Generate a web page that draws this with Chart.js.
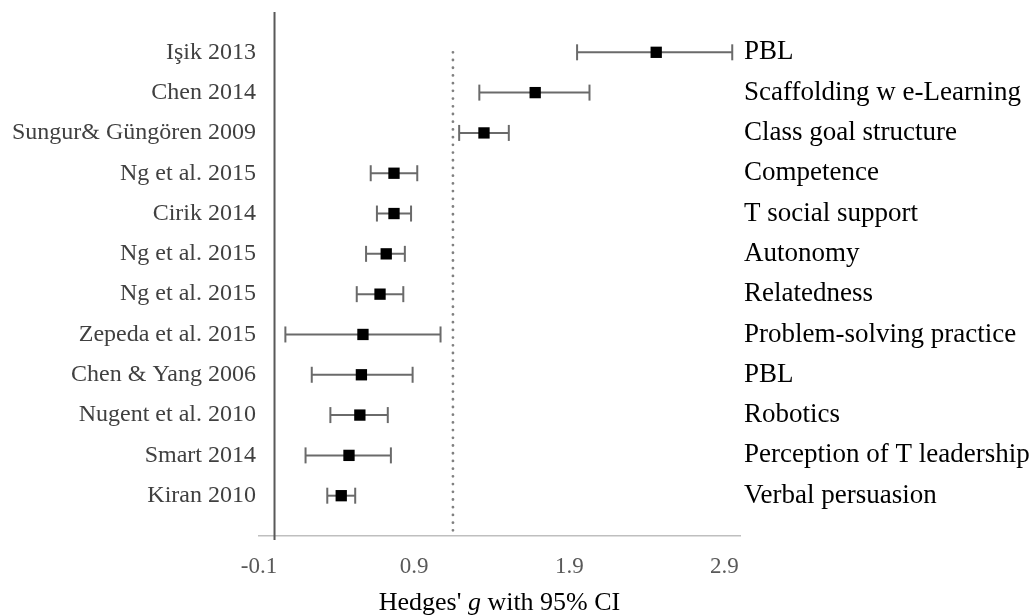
<!DOCTYPE html>
<html><head><meta charset="utf-8">
<script src="https://cdn.jsdelivr.net/npm/chart.js@4"></script>
<style>html,body{margin:0;padding:0;background:#fff}#wrap{width:1031px;height:615px;position:relative}</style>
</head><body><div id="wrap"><canvas id="c" width="1031" height="615"></canvas></div>
<script>
const studies = ["Işik 2013","Chen 2014","Sungur& Güngören 2009","Ng et al. 2015","Cirik 2014","Ng et al. 2015","Ng et al. 2015","Zepeda et al. 2015","Chen & Yang 2006","Nugent et al. 2010","Smart 2014","Kiran 2010"];
const interventions = ["PBL","Scaffolding w e-Learning","Class goal structure","Competence","T social support","Autonomy","Relatedness","Problem-solving practice","PBL","Robotics","Perception of T leadership","Verbal persuasion"];
const effect = [2.46, 1.68, 1.35, 0.77, 0.77, 0.72, 0.68, 0.57, 0.56, 0.55, 0.48, 0.43];
const lower  = [1.95, 1.32, 1.19, 0.62, 0.66, 0.59, 0.53, 0.07, 0.24, 0.36, 0.20, 0.34];
const upper  = [2.95, 2.03, 1.51, 0.92, 0.88, 0.84, 0.83, 1.07, 0.89, 0.73, 0.75, 0.52];
const pooledEffect = 1.15;
const xTickValues = [-0.1, 0.9, 1.9, 2.9];
const xTickLabels = ["-0.1", "0.9", "1.9", "2.9"];
const xTitleParts = [["Hedges' ", "normal"], ["g", "italic"], [" with 95% CI", "normal"]];

const n = studies.length;
const rowY = studies.map((_, i) => n - i);
const ERR = '#6a6a6a';

const datasets = [];
datasets.push({
  label: 'Effect',
  data: effect.map((v, i) => ({x: v, y: rowY[i]})),
  pointStyle: 'rect', pointRadius: 8, pointHoverRadius: 8,
  pointBackgroundColor: '#000', pointBorderWidth: 0, showLine: false
});
studies.forEach((s, i) => datasets.push({
  label: 'CI ' + i,
  data: [{x: lower[i], y: rowY[i]}, {x: upper[i], y: rowY[i]}],
  showLine: true, borderColor: ERR, borderWidth: 2,
  pointStyle: 'line', pointRotation: 90, pointRadius: 8, pointHoverRadius: 8,
  pointBorderColor: ERR, pointBorderWidth: 2, pointBackgroundColor: ERR
}));
datasets.push({
  label: 'Pooled',
  data: [{x: pooledEffect, y: rowY[0]}, {x: pooledEffect, y: 0}],
  showLine: true, borderColor: '#808080', borderWidth: 2.8,
  borderDash: [0.01, 7.7], borderCapStyle: 'round', pointRadius: 0
});
datasets.push({
  label: 'Axis',
  data: [{x: 0, y: n + 1}, {x: 0, y: -0.1}],
  showLine: true, borderColor: '#595959', borderWidth: 2, pointRadius: 0, clip: false
});

const titlePlugin = {
  id: 'xtitle',
  afterDraw(chart) {
    const ctx = chart.ctx, x = chart.scales.x;
    ctx.save();
    ctx.fillStyle = '#000';
    ctx.textBaseline = 'alphabetic';
    let total = 0;
    const widths = xTitleParts.map(p => {
      ctx.font = p[1] + ' 26px "Liberation Serif"';
      const w = ctx.measureText(p[0]).width; total += w; return w;
    });
    let xx = (x.left + x.right) / 2 - total / 2;
    xTitleParts.forEach((p, k) => {
      ctx.font = p[1] + ' 26px "Liberation Serif"';
      ctx.fillText(p[0], xx, x.bottom - 5);
      xx += widths[k];
    });
    ctx.restore();
  }
};

new Chart(document.getElementById('c'), {
  type: 'scatter',
  data: { datasets },
  plugins: [titlePlugin],
  options: {
    responsive: false, devicePixelRatio: 1, animation: false,
    layout: { padding: { top: 12, left: 0, right: 0, bottom: 0 } },
    plugins: { legend: { display: false }, tooltip: { enabled: false } },
    scales: {
      x: {
        type: 'linear', position: 'bottom', min: -0.1, max: 3.0,
        grid: { display: false, drawTicks: false },
        border: { display: true, color: '#bfbfbf', width: 1.5 },
        ticks: {
          padding: 17, color: '#595959', autoSkip: false, maxRotation: 0,
          font: { family: 'Liberation Serif', size: 23 },
          callback: (v) => { const k = xTickValues.findIndex(t => Math.abs(t - v) < 1e-9); return k >= 0 ? xTickLabels[k] : ''; }
        },
        afterBuildTicks: (s) => { s.ticks = xTickValues.map(v => ({ value: v })); },
        afterFit: (s) => { s.height = 79; s.paddingLeft = 0; s.paddingRight = 0; }
      },
      y: {
        type: 'linear', position: 'left', min: 0, max: n + 1,
        grid: { display: false, drawTicks: false },
        border: { display: false },
        ticks: {
          padding: 3, color: '#404040', autoSkip: false,
          font: { family: 'Liberation Serif', size: 24 },
          callback: (v) => studies[n - v] ?? ''
        },
        afterBuildTicks: (s) => { s.ticks = rowY.map(v => ({ value: v })); },
        afterFit: (s) => { s.width = 259; s.paddingTop = 0; s.paddingBottom = 0; }
      },
      y2: {
        type: 'linear', position: 'right', min: 0, max: n + 1,
        grid: { display: false, drawTicks: false },
        border: { display: false },
        ticks: {
          padding: 4, color: '#000', autoSkip: false,
          font: { family: 'Liberation Serif', size: 27 },
          callback: (v) => interventions[n - v] ?? ''
        },
        afterBuildTicks: (s) => { s.ticks = rowY.map(v => ({ value: v })); },
        afterFit: (s) => { s.width = 291; s.paddingTop = 0; s.paddingBottom = 0; }
      }
    }
  }
});
</script>
</body></html>
